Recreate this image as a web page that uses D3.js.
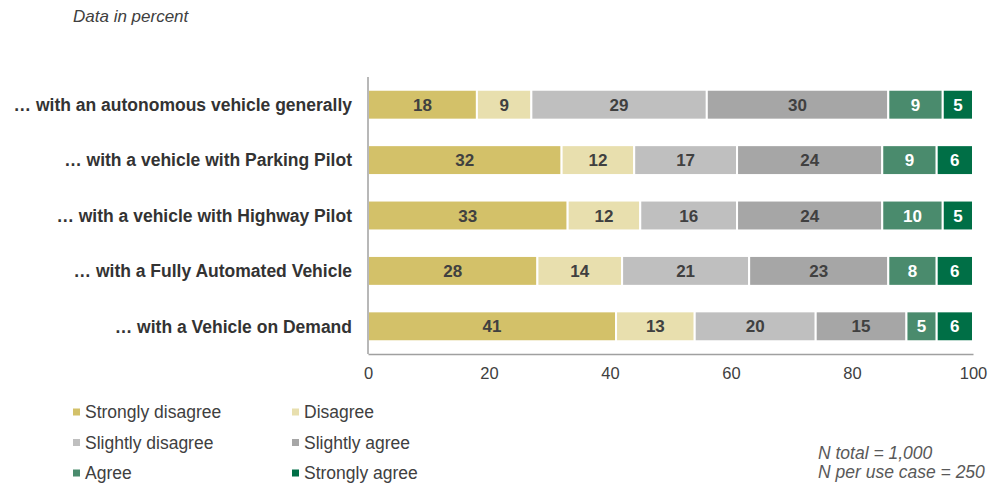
<!DOCTYPE html>
<html><head><meta charset="utf-8">
<script src="https://cdn.jsdelivr.net/npm/d3@7"></script>
<style>body{margin:0;background:#fff;}svg{display:block;font-family:"Liberation Sans",Arial,sans-serif;}</style>
</head><body>
<svg id="c" width="997" height="484"></svg>
<script>
const categories = ["… with an autonomous vehicle generally","… with a vehicle with Parking Pilot","… with a vehicle with Highway Pilot","… with a Fully Automated Vehicle","… with a Vehicle on Demand"];
const seriesNames = ["Strongly disagree","Disagree","Slightly disagree","Slightly agree","Agree","Strongly agree"];
const stronglyDisagree = [18,32,33,28,41];
const disagree = [9,12,12,14,13];
const slightlyDisagree = [29,17,16,21,20];
const slightlyAgree = [30,24,24,23,15];
const agree = [9,9,10,8,5];
const stronglyAgree = [5,6,5,6,6];
const colors = ["#D3C169","#E8DFAE","#BFBFBF","#A6A6A6","#4A8B6D","#006F46"];
const labelColors = ["#404040","#404040","#404040","#404040","#ffffff","#ffffff"];
const xTicks = [0,20,40,60,80,100];

const series = [stronglyDisagree,disagree,slightlyDisagree,slightlyAgree,agree,stronglyAgree];
const table = categories.map((c,i)=>{const o={cat:c}; seriesNames.forEach((s,j)=>o[s]=series[j][i]); return o;});
const stacked = d3.stack().keys(seriesNames)(table);

const svg = d3.select("#c");
const x = d3.scaleLinear().domain([0,100]).range([368,973]);
const y = d3.scaleBand().domain(categories).range([77,354]).paddingInner(0.46).paddingOuter(0.23);

svg.append("text").attr("x",73).attr("y",22).attr("font-size",17).attr("font-style","italic").attr("fill","#404040").text("Data in percent");

stacked.forEach((s,j)=>{
  const g = svg.append("g");
  g.selectAll("rect").data(s).join("rect")
    .attr("x",d=>x(d[0])).attr("y",d=>y(d.data.cat))
    .attr("width",d=>x(d[1])-x(d[0])).attr("height",y.bandwidth())
    .attr("fill",colors[j]).attr("stroke","#fff").attr("stroke-width",2);
  g.selectAll("text").data(s).join("text")
    .attr("x",d=>(x(d[0])+x(d[1]))/2).attr("y",d=>y(d.data.cat)+y.bandwidth()/2)
    .attr("dy","0.36em").attr("text-anchor","middle").attr("font-size",17).attr("font-weight","bold")
    .attr("fill",labelColors[j]).text(d=>d[1]-d[0]);
});

const ax = svg.append("g").attr("transform","translate(0,354)")
  .call(d3.axisBottom(x).tickValues(xTicks).tickSize(0).tickPadding(13));
ax.select(".domain").attr("stroke","#a0a0a0").attr("stroke-width",1.5);
ax.selectAll("text").attr("font-size",16.5).attr("fill","#404040").attr("font-family","Liberation Sans, Arial, sans-serif");
svg.append("line").attr("x1",368).attr("x2",368).attr("y1",77).attr("y2",354).attr("stroke","#a0a0a0").attr("stroke-width",1.5);

svg.append("g").selectAll("text").data(categories).join("text")
  .attr("x",352).attr("y",d=>y(d)+y.bandwidth()/2).attr("dy","0.36em")
  .attr("text-anchor","end").attr("font-size",17.5).attr("font-weight","bold").attr("fill","#333333").text(d=>d);

const leg = svg.append("g");
seriesNames.forEach((s,i)=>{
  const cx = i%2===0 ? 73 : 292;
  const cy = 412 + Math.floor(i/2)*30.5;
  leg.append("rect").attr("x",cx).attr("y",cy-3.5).attr("width",7).attr("height",7).attr("fill",colors[i]);
  leg.append("text").attr("x",cx+12).attr("y",cy).attr("dy","0.36em").attr("font-size",17.5).attr("fill","#404040").text(s);
});

svg.append("text").attr("x",818).attr("y",459).attr("font-size",17.5).attr("font-style","italic").attr("fill","#595959").text("N total = 1,000");
svg.append("text").attr("x",818).attr("y",478).attr("font-size",17.5).attr("font-style","italic").attr("fill","#595959").text("N per use case = 250");
</script>
</body></html>
